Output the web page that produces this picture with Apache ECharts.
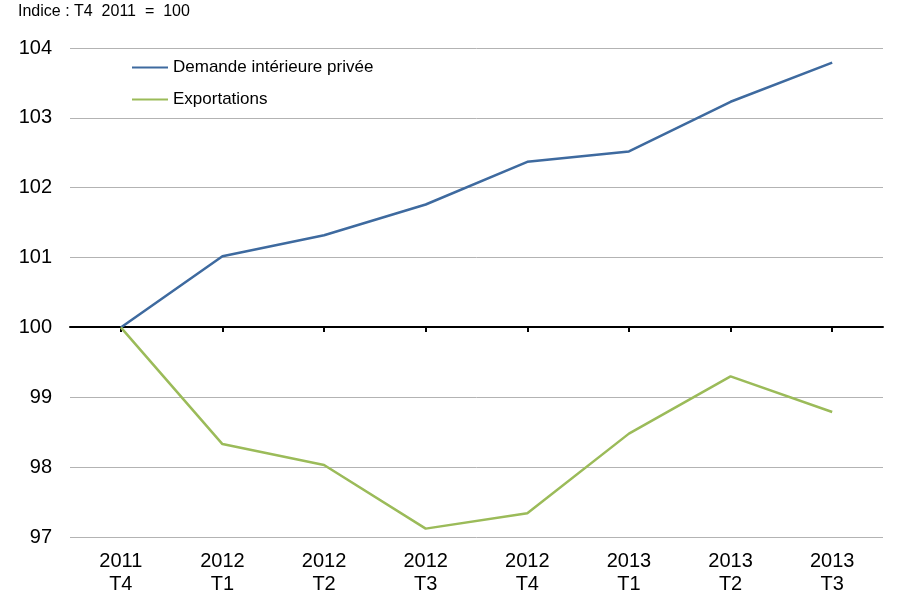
<!DOCTYPE html>
<html><head><meta charset="utf-8">
<script src="https://cdn.jsdelivr.net/npm/echarts@6/dist/echarts.min.js"></script>
<style>html,body{margin:0;padding:0;background:#fff}#c{width:900px;height:601px}</style>
</head><body><div id="c"></div>
<script>
const categories = ['2011\nT4','2012\nT1','2012\nT2','2012\nT3','2012\nT4','2013\nT1','2013\nT2','2013\nT3'];
const demandeInterieure = [100, 101.02, 101.32, 101.76, 102.37, 102.52, 103.23, 103.79];
const exportations = [100, 98.33, 98.03, 97.12, 97.34, 98.48, 99.30, 98.79];
const yTicks = [97, 104, 1];
const font = '"Liberation Sans", Arial, sans-serif';

const chart = echarts.init(document.getElementById('c'));
chart.setOption({
  animation: false,
  textStyle: {fontFamily: font},
  graphic: [{type: 'text', left: 18, top: 4, style: {text: 'Indice : T4  2011  =  100', font: '16px ' + font, fill: '#000'}}],
  legend: {
    orient: 'vertical', left: 127, top: 54, itemGap: 15, itemWidth: 36, itemHeight: 10,
    icon: 'path://M0,4 L36,4 L36,6 L0,6 Z',
    textStyle: {fontSize: 17, color: '#000', fontFamily: font},
    data: ['Demande intérieure privée', 'Exportations']
  },
  grid: [
    {left: 70, right: 17, top: 48, bottom: 64},
    {left: 70, right: 17, top: 48, bottom: 274}
  ],
  xAxis: [
    {type: 'category', gridIndex: 0, data: categories, boundaryGap: true,
     axisLine: {show: false}, axisTick: {show: false},
     axisLabel: {color: '#000', fontSize: 20, margin: 13, lineHeight: 23, fontFamily: font}},
    {type: 'category', gridIndex: 1, data: categories, boundaryGap: true,
     axisLine: {show: true, lineStyle: {color: '#000', width: 2}},
     axisTick: {show: true, alignWithLabel: true, length: 5, lineStyle: {color: '#000', width: 2}},
     axisLabel: {show: false}}
  ],
  yAxis: [
    {type: 'value', gridIndex: 0, min: yTicks[0], max: yTicks[1], interval: yTicks[2],
     axisLine: {show: false}, axisTick: {show: false},
     splitLine: {lineStyle: {color: '#b3b3b3', width: 1}},
     axisLabel: {color: '#000', fontSize: 20, margin: 18, fontFamily: font}},
    {type: 'value', gridIndex: 1, show: false, min: 100, max: 104}
  ],
  series: [
    {name: 'Demande intérieure privée', type: 'line', xAxisIndex: 0, yAxisIndex: 0, data: demandeInterieure,
     symbol: 'none', lineStyle: {color: '#3E6A9F', width: 2.5}, itemStyle: {color: '#3E6A9F'}},
    {name: 'Exportations', type: 'line', xAxisIndex: 0, yAxisIndex: 0, data: exportations,
     symbol: 'none', lineStyle: {color: '#9BBB59', width: 2.5}, itemStyle: {color: '#9BBB59'}}
  ]
});
</script></body></html>
